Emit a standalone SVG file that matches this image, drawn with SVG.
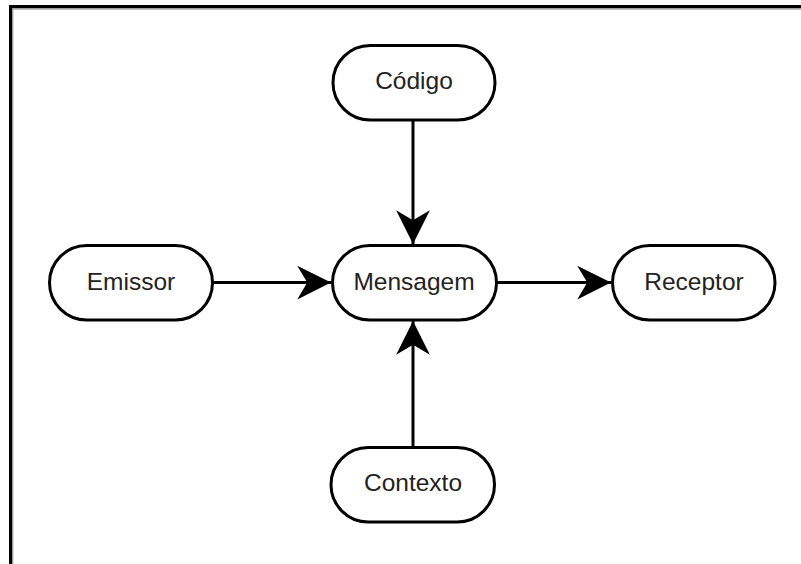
<svg xmlns="http://www.w3.org/2000/svg" width="801" height="564" viewBox="0 0 801 564">
<style>
.node rect{fill:#fff;stroke:#000;stroke-width:3}
.node text{font-family:"Liberation Sans",Arial,sans-serif;font-size:24.5px;fill:#222;text-anchor:middle}
.edge{stroke:#000;stroke-width:3;fill:none}
</style>
<defs>
<marker id="arr" markerUnits="userSpaceOnUse" markerWidth="40" markerHeight="40" viewBox="-30 -15 32 30" refX="0" refY="0" orient="auto">
<path d="M0,0 L-27,-13.5 L-19,0 L-27,13.5 Z" fill="#000"/>
</marker>
</defs>
<rect x="0" y="0" width="801" height="564" fill="#fff"/>
<g id="frame">
<rect x="9" y="5" width="792" height="3.3" fill="#000"/>
<rect x="12" y="8.3" width="789" height="1.3" fill="#9a9a9a"/>
<rect x="9" y="5" width="3" height="559" fill="#000"/>
<rect x="12" y="8.3" width="1.3" height="556" fill="#9a9a9a"/>
</g>
<g id="connectors">
<line class="edge" x1="213" y1="282.5" x2="331" y2="282.5" marker-end="url(#arr)"/>
<line class="edge" x1="497" y1="282.5" x2="611" y2="282.5" marker-end="url(#arr)"/>
<line class="edge" x1="413" y1="120" x2="413" y2="244" marker-end="url(#arr)"/>
<line class="edge" x1="413" y1="447" x2="413" y2="321" marker-end="url(#arr)"/>
</g>
<g id="codigo" class="node"><rect x="333" y="45.5" width="162" height="74.5" rx="37.25"/><text x="414" y="89">Código</text></g>
<g id="emissor" class="node"><rect x="49.5" y="245.5" width="163" height="74.5" rx="37.25"/><text x="131" y="289.5">Emissor</text></g>
<g id="mensagem" class="node"><rect x="332.5" y="245.5" width="164" height="74.5" rx="37.25"/><text x="414" y="289.5">Mensagem</text></g>
<g id="receptor" class="node"><rect x="612.5" y="245.5" width="162.5" height="74.5" rx="37.25"/><text x="694" y="289.5">Receptor</text></g>
<g id="contexto" class="node"><rect x="331" y="447.5" width="163.5" height="74.5" rx="37.25"/><text x="413" y="491">Contexto</text></g>
</svg>
